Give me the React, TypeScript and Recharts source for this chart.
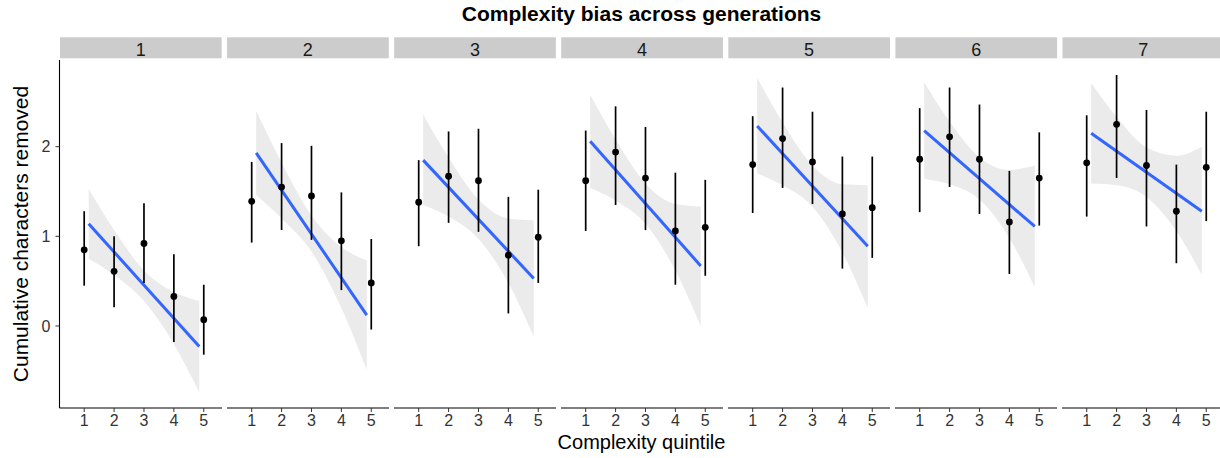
import React from "react";
import { Area, ComposedChart, ErrorBar, Line, Scatter, XAxis, YAxis } from "recharts";

const generations = ["1", "2", "3", "4", "5", "6", "7"];
const quintiles = [1, 2, 3, 4, 5];
const yTicks = [0, 1, 2];

// mean per quintile, one row per generation
const means = [
  [0.85, 0.61, 0.92, 0.33, 0.07],
  [1.39, 1.55, 1.45, 0.95, 0.48],
  [1.38, 1.67, 1.62, 0.79, 0.99],
  [1.62, 1.94, 1.65, 1.06, 1.1],
  [1.8, 2.09, 1.83, 1.25, 1.32],
  [1.86, 2.11, 1.86, 1.16, 1.65],
  [1.82, 2.25, 1.79, 1.28, 1.77],
];
const lows = [
  [0.45, 0.21, 0.48, -0.18, -0.32],
  [0.93, 1.07, 0.96, 0.4, -0.04],
  [0.89, 1.15, 1.05, 0.14, 0.48],
  [1.06, 1.35, 1.07, 0.46, 0.56],
  [1.26, 1.54, 1.36, 0.64, 0.76],
  [1.27, 1.55, 1.25, 0.58, 1.12],
  [1.22, 1.65, 1.11, 0.7, 1.17],
];
const highs = [
  [1.28, 1.0, 1.37, 0.8, 0.46],
  [1.83, 2.04, 2.01, 1.49, 0.97],
  [1.85, 2.17, 2.2, 1.44, 1.52],
  [2.18, 2.45, 2.22, 1.71, 1.63],
  [2.34, 2.66, 2.39, 1.89, 1.89],
  [2.43, 2.66, 2.47, 1.73, 2.16],
  [2.35, 2.8, 2.41, 1.8, 2.39],
];

// linear fit, ends only
const fitX = [1.15, 4.85];
const fitStart = [1.14, 1.93, 1.85, 2.06, 2.23, 2.18, 2.15];
const fitEnd = [-0.23, 0.12, 0.53, 0.67, 0.89, 1.11, 1.28];

// confidence band read at a few x positions
const bandX = [1.15, 2, 3, 4, 4.85];
const bandLow = [
  [0.75, 0.57, 0.28, -0.2, -0.74],
  [1.46, 1.2, 0.83, 0.2, -0.49],
  [1.35, 1.22, 0.97, 0.48, -0.12],
  [1.54, 1.4, 1.14, 0.62, 0.0],
  [1.7, 1.57, 1.33, 0.82, 0.2],
  [1.64, 1.58, 1.41, 0.98, 0.43],
  [1.59, 1.57, 1.44, 1.06, 0.57],
];
const bandHigh = [
  [1.53, 1.07, 0.62, 0.38, 0.28],
  [2.4, 1.82, 1.23, 0.88, 0.73],
  [2.36, 1.88, 1.41, 1.2, 1.18],
  [2.58, 2.08, 1.59, 1.36, 1.33],
  [2.77, 2.27, 1.79, 1.58, 1.57],
  [2.72, 2.28, 1.88, 1.74, 1.79],
  [2.71, 2.33, 1.99, 1.9, 2.0],
];

const PANEL_LEFT = 59.5;
const PITCH = 167.08;
const PANEL_W = 162.5;
const PLOT_TOP = 60;
const PLOT_H = 348;
const AXIS_W = 59.5;
const X_DOMAIN: [number, number] = [0.174, 5.61];
const Y_DOMAIN: [number, number] = [-0.915, 2.967];

const dot = (props: any) => <circle cx={props.cx} cy={props.cy} r={3.4} fill="#000" />;

function Panel({ g }: { g: number }) {
  const first = g === 0;
  const left = PANEL_LEFT + PITCH * g;
  const points = quintiles.map((q, i) => ({
    x: q,
    y: means[g][i],
    err: [means[g][i] - lows[g][i], highs[g][i] - means[g][i]],
  }));
  const band = bandX.map((x, i) => ({ x, band: [bandLow[g][i], bandHigh[g][i]] }));
  const fit = fitX.map((x, i) => ({ x, fit: i === 0 ? fitStart[g] : fitEnd[g] }));

  return (
    <div style={{ position: "absolute", left: first ? 0 : left, top: PLOT_TOP }}>
      <ComposedChart
        width={PANEL_W + (first ? AXIS_W : 0)}
        height={PLOT_H + 30}
        data={band}
        margin={{ top: 0, right: 0, bottom: 0, left: 0 }}
      >
        <XAxis
          type="number"
          dataKey="x"
          domain={X_DOMAIN}
          ticks={quintiles}
          interval={0}
          allowDataOverflow
          height={30}
          tickSize={4}
          tickMargin={3}
          axisLine={{ stroke: "#000", strokeWidth: 1.1 }}
          tickLine={{ stroke: "#333" }}
          tick={{ fontSize: 16, fill: "#333" }}
        />
        <YAxis
          type="number"
          domain={Y_DOMAIN}
          ticks={yTicks}
          interval={0}
          allowDataOverflow
          hide={!first}
          width={AXIS_W}
          tickSize={4}
          tickMargin={5}
          axisLine={{ stroke: "#000", strokeWidth: 1.1 }}
          tickLine={{ stroke: "#333" }}
          tick={{ fontSize: 16, fill: "#333" }}
        />
        <Area
          dataKey="band"
          type="monotone"
          stroke="none"
          fill="#ebebeb"
          fillOpacity={1}
          isAnimationActive={false}
        />
        <Line
          data={fit}
          dataKey="fit"
          type="linear"
          stroke="#3366ff"
          strokeWidth={3}
          dot={false}
          activeDot={false}
          isAnimationActive={false}
        />
        <Scatter data={points} dataKey="y" fill="#000" shape={dot} isAnimationActive={false}>
          <ErrorBar dataKey="err" direction="y" width={0} stroke="#000" strokeWidth={1.7} />
        </Scatter>
      </ComposedChart>
    </div>
  );
}

export default function App() {
  return (
    <div
      style={{
        position: "absolute",
        left: 0,
        top: 0,
        width: 1220,
        height: 458,
        overflow: "hidden",
        background: "#fff",
        fontFamily: "'Liberation Sans', Arial, sans-serif",
      }}
    >
      <svg width={1220} height={458} style={{ position: "absolute", left: 0, top: 0 }}>
        <text x={641.5} y={20.7} textAnchor="middle" fontSize={21} fontWeight="bold" fill="#000">
          Complexity bias across generations
        </text>
        {generations.map((label, g) => {
          const left = PANEL_LEFT + PITCH * g;
          return (
            <g key={label}>
              <rect x={left + 0.5} y={37.3} width={161.7} height={21} fill="#cccccc" />
              <text x={left + 81.3} y={55.5} textAnchor="middle" fontSize={18} fill="#1a1a1a">
                {label}
              </text>
            </g>
          );
        })}
        <text x={641.5} y={449} textAnchor="middle" fontSize={20} fill="#000">
          Complexity quintile
        </text>
        <text transform="translate(28.3,234) rotate(-90)" textAnchor="middle" fontSize={21} fill="#000">
          Cumulative characters removed
        </text>
      </svg>
      {generations.map((label, g) => (
        <Panel key={label} g={g} />
      ))}
    </div>
  );
}
